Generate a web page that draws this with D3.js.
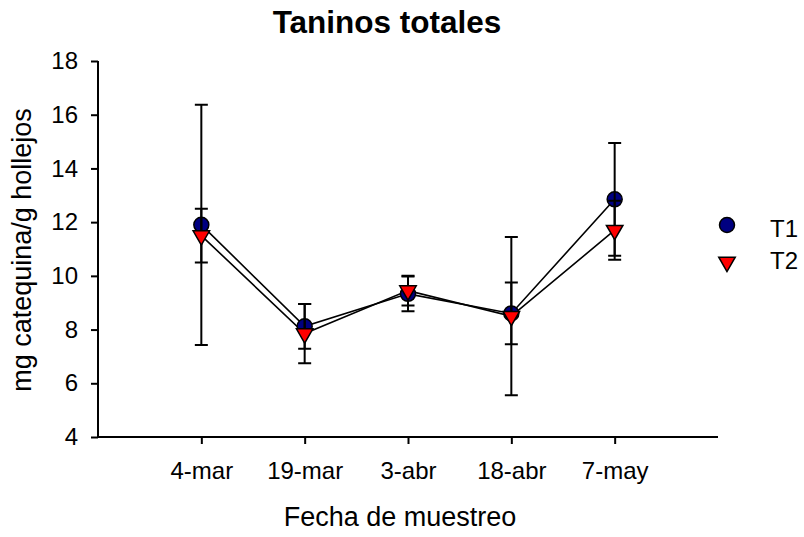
<!DOCTYPE html>
<html>
<head>
<meta charset="utf-8">
<script src="https://cdn.jsdelivr.net/npm/d3@7"></script>
<style>
  html, body { margin: 0; padding: 0; background: #fff; }
  svg { display: block; font-family: "Liberation Sans", Arial, sans-serif; }
</style>
</head>
<body>
<svg id="chart" width="804" height="537"></svg>
<script>
// Sampling dates and tannin means (mg catequina / g hollejos) with their error bars
const fechas = ["4-mar", "19-mar", "3-abr", "18-abr", "7-may"];
const t1Media = [11.9, 8.12, 9.33, 8.6, 12.85];
const t1Error = [4.47, 0.83, 0.65, 1.15, 2.1];
const t2Media = [11.5, 7.85, 9.45, 8.5, 11.7];
const t2Error = [1.0, 1.1, 0.55, 2.95, 1.1];
const yTicks = [4, 6, 8, 10, 12, 14, 16, 18];
const series = ["T1", "T2"];

const svg = d3.select("#chart");
const plotLeft = 98, plotRight = 718, plotTop = 61, plotBottom = 437;

const x = d3.scaleLinear().domain([0, fechas.length + 1]).range([plotLeft, plotRight]);
const y = d3.scaleLinear().domain([4, 18]).range([plotBottom, plotTop]);

// Title
svg.append("text")
  .attr("x", 387).attr("y", 33)
  .attr("text-anchor", "middle")
  .attr("font-size", 31.5).attr("font-weight", "bold")
  .text("Taninos totales");

// Axes
const yAxis = d3.axisLeft(y).tickValues(yTicks).tickSize(7).tickPadding(13).tickFormat(d3.format("d"));
const gy = svg.append("g").attr("transform", `translate(${plotLeft},0)`).call(yAxis);
const xAxis = d3.axisBottom(x).tickValues(d3.range(1, fechas.length + 1)).tickSize(7).tickPadding(18)
  .tickFormat(i => fechas[i - 1]);
const gx = svg.append("g").attr("transform", `translate(0,${plotBottom})`).call(xAxis);
[gx, gy].forEach(g => {
  g.select(".domain").attr("stroke", "#000").attr("stroke-width", 2);
  g.selectAll(".tick line").attr("stroke", "#000").attr("stroke-width", 2);
  g.selectAll(".tick text").attr("fill", "#000").attr("font-size", 24)
    .attr("font-family", "Liberation Sans, Arial, sans-serif");
});
// domain path without outer tick stubs
gy.select(".domain").attr("d", `M0,${plotTop}V${plotBottom}`);
gx.select(".domain").attr("d", `M${plotLeft},0H${plotRight}`);

// Axis titles
svg.append("text")
  .attr("x", 400).attr("y", 526)
  .attr("text-anchor", "middle").attr("font-size", 27)
  .text("Fecha de muestreo");
svg.append("text")
  .attr("transform", "translate(31,250) rotate(-90)")
  .attr("text-anchor", "middle").attr("font-size", 27)
  .text("mg catequina/g hollejos");

const idx = d3.range(fechas.length);
const line = d3.line().x(i => x(i + 1));

// Connecting lines
svg.append("path").datum(idx)
  .attr("d", line.y(i => y(t1Media[i])))
  .attr("fill", "none").attr("stroke", "#000").attr("stroke-width", 1.6);
svg.append("path").datum(idx)
  .attr("d", line.y(i => y(t2Media[i])))
  .attr("fill", "none").attr("stroke", "#000").attr("stroke-width", 1.6);

// T1 circles
svg.append("g").selectAll("circle").data(idx).join("circle")
  .attr("cx", i => x(i + 1)).attr("cy", i => y(t1Media[i])).attr("r", 7.5)
  .attr("fill", "#000080").attr("stroke", "#000").attr("stroke-width", 1.5);

// Error bars for both treatments
function errorBars(media, err) {
  const g = svg.append("g").attr("stroke", "#000").attr("stroke-width", 2).attr("fill", "none");
  g.selectAll("path").data(idx).join("path")
    .attr("d", i => {
      const cx = x(i + 1), hi = y(media[i] + err[i]), lo = y(media[i] - err[i]);
      return `M${cx},${hi}V${lo}M${cx - 6.5},${hi}H${cx + 6.5}M${cx - 6.5},${lo}H${cx + 6.5}`;
    });
}
errorBars(t1Media, t1Error);
errorBars(t2Media, t2Error);

// T2 down-pointing triangles
const tri = d3.symbol().type(d3.symbolTriangle).size(118);
svg.append("g").selectAll("path").data(idx).join("path")
  .attr("transform", i => `translate(${x(i + 1)},${y(t2Media[i])}) rotate(180)`)
  .attr("d", tri)
  .attr("fill", "#ff0000").attr("stroke", "#000").attr("stroke-width", 1.5);

// Legend
const legend = svg.append("g");
legend.append("circle").attr("cx", 727).attr("cy", 225).attr("r", 7.5)
  .attr("fill", "#000080").attr("stroke", "#000").attr("stroke-width", 1.5);
legend.append("path").attr("transform", "translate(727,262) rotate(180)").attr("d", tri)
  .attr("fill", "#ff0000").attr("stroke", "#000").attr("stroke-width", 1.5);
legend.selectAll("text").data(series).join("text")
  .attr("x", 770).attr("y", (d, i) => 237 + i * 32)
  .attr("font-size", 24).text(d => d);
</script>
</body>
</html>
